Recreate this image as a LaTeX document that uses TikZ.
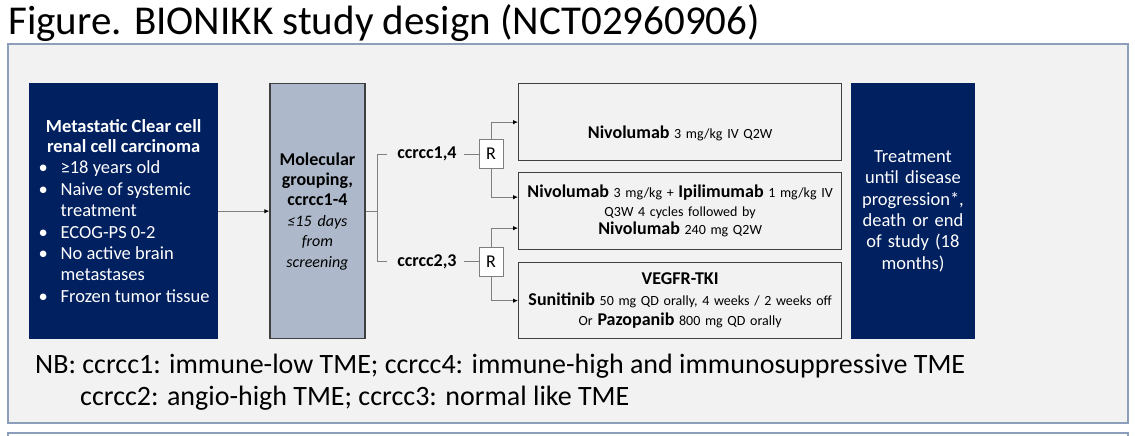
\documentclass[tikz,border=0pt]{standalone}
\usepackage{fontspec}
\setmainfont{Carlito}
\usetikzlibrary{arrows.meta, positioning, calc}
\definecolor{navy}{RGB}{0,32,96}
\definecolor{slate}{RGB}{173,185,202}
\definecolor{panel}{RGB}{242,242,242}
\definecolor{frame}{RGB}{140,158,186}
\definecolor{ink}{RGB}{64,64,64}
\definecolor{wire}{RGB}{127,127,127}
\newcommand{\drug}[1]{{\fontsize{18}{19}\selectfont\bfseries #1}}
\newcommand{\pitem}[1]{\noindent\makebox[27pt][l]{\hspace{5pt}\textbullet}#1\par}
\tikzset{
  blk/.style  ={rectangle, draw=ink, line width=1.3pt, fill=panel, align=center,
                inner sep=0pt, anchor=north west, font=\fontsize{14}{19}\selectfont},
  blkn/.style ={blk, draw=navy, fill=navy, text=white, minimum height=255pt,
                font=\fontsize{18.5}{21.4}\selectfont},
  blks/.style ={blk, fill=slate, minimum width=95pt, text width=95pt, minimum height=255pt,
                font=\fontsize{18}{20.4}\selectfont},
  blkt/.style ={blk, minimum width=323pt, text width=323pt, minimum height=77pt},
  rbox/.style ={rectangle, draw=wire, fill=white, minimum width=24pt, minimum height=29pt,
                inner sep=0pt, font=\fontsize{18}{19}\selectfont},
  grp/.style  ={inner sep=0pt, font=\fontsize{18}{19}\selectfont\bfseries},
  ln/.style   ={draw=wire, line width=0.9pt},
  ar/.style   ={ln, -{Latex[length=5pt, width=4.5pt, color=black]}},
}

\begin{document}
\begin{tikzpicture}[x=1pt, y=-1pt]
\useasboundingbox (0,0) rectangle (1135,436);
\node[anchor=base west, inner sep=0pt, font=\fontsize{41}{44}\selectfont] (title) at (8,35)
  {Figure. BIONIKK study design (NCT02960906)};
\draw[frame, fill=panel, line width=1.3pt] (8,44) rectangle (1128,423);
\draw[frame, line width=1.3pt] (8,437) -- (8,433) -- (1128,433) -- (1128,437);

\node[blkn, minimum width=188pt] (pat) at (29,83) {%
  \begin{minipage}{180pt}\centering
  {\fontsize{18.5}{19.5}\selectfont\bfseries Metastatic Clear cell\\renal cell carcinoma\par}
  \raggedright
  \pitem{≥18 years old}
  \pitem{Naive of systemic\\\hspace*{27pt}treatment}
  \pitem{ECOG-PS 0-2}
  \pitem{No active brain\\\hspace*{27pt}metastases}
  \pitem{Frozen tumor tissue}
  \end{minipage}};
\node[blks, right=51pt of pat] (mol) {\bfseries Molecular\\grouping,\\ccrcc1-4\\
  {\mdseries\itshape\fontsize{16}{20.4}\selectfont ≤15 days\\from\\screening}};
\node[grp] (g1) at (427,154) {ccrcc1,4};
\node[grp] (g2) at (427,261.5) {ccrcc2,3};
\node[rbox] (r1) at (491,154) {R};
\node[rbox] (r2) at (491,261.5) {R};
\node[blkt] (t1) at (518,83)
  {\raisebox{-16.5pt}[0pt][0pt]{\drug{Nivolumab} 3 mg/kg IV Q2W}};
\node[blkt, font=\fontsize{14}{18.5}\selectfont] (t2) at (518,172)
  {\drug{Nivolumab} 3 mg/kg + \drug{Ipilimumab} 1 mg/kg IV\\Q3W 4 cycles followed by\\
   \drug{Nivolumab} 240 mg Q2W};
\node[blkt, minimum height=76pt, font=\fontsize{14}{20.5}\selectfont] (t3) at (518,262)
  {\drug{VEGFR-TKI}\\\drug{Sunitinib} 50 mg QD orally, 4 weeks / 2 weeks off\\
   Or \drug{Pazopanib} 800 mg QD orally};
\node[blkn, minimum width=122pt, text width=122pt, right=9pt of t2] (fin)
  {Treatment\\until disease\\progression*,\\death or end\\of study (18\\months)};

\draw[ar] (pat) -- (mol);
\draw[ln] (mol.east) -- ++(12,0) coordinate (fork);
\draw[ln] ([xshift=-10pt]g1.west) -| (fork) |- ([xshift=-10pt]g2.west);
\draw[ln] ([xshift=7pt]g1.east) -- (r1);
\draw[ln] ([xshift=7pt]g2.east) -- (r2);
\draw[ar] (r1.north) |- (t1.west);
\draw[ar] (r1.south) |- ([yshift=14pt]t2.west);
\draw[ar] (r2.north) |- ([yshift=-17pt]t2.west);
\draw[ar] (r2.south) |- (t3.west);

\node[anchor=north west, inner sep=0pt, align=left, font=\fontsize{28}{32}\selectfont] (nb) at (35,354)
  {NB: ccrcc1: immune-low TME; ccrcc4: immune-high and immunosuppressive TME\\
   \hspace*{45pt}ccrcc2: angio-high TME; ccrcc3: normal like TME};
\end{tikzpicture}
\end{document}
